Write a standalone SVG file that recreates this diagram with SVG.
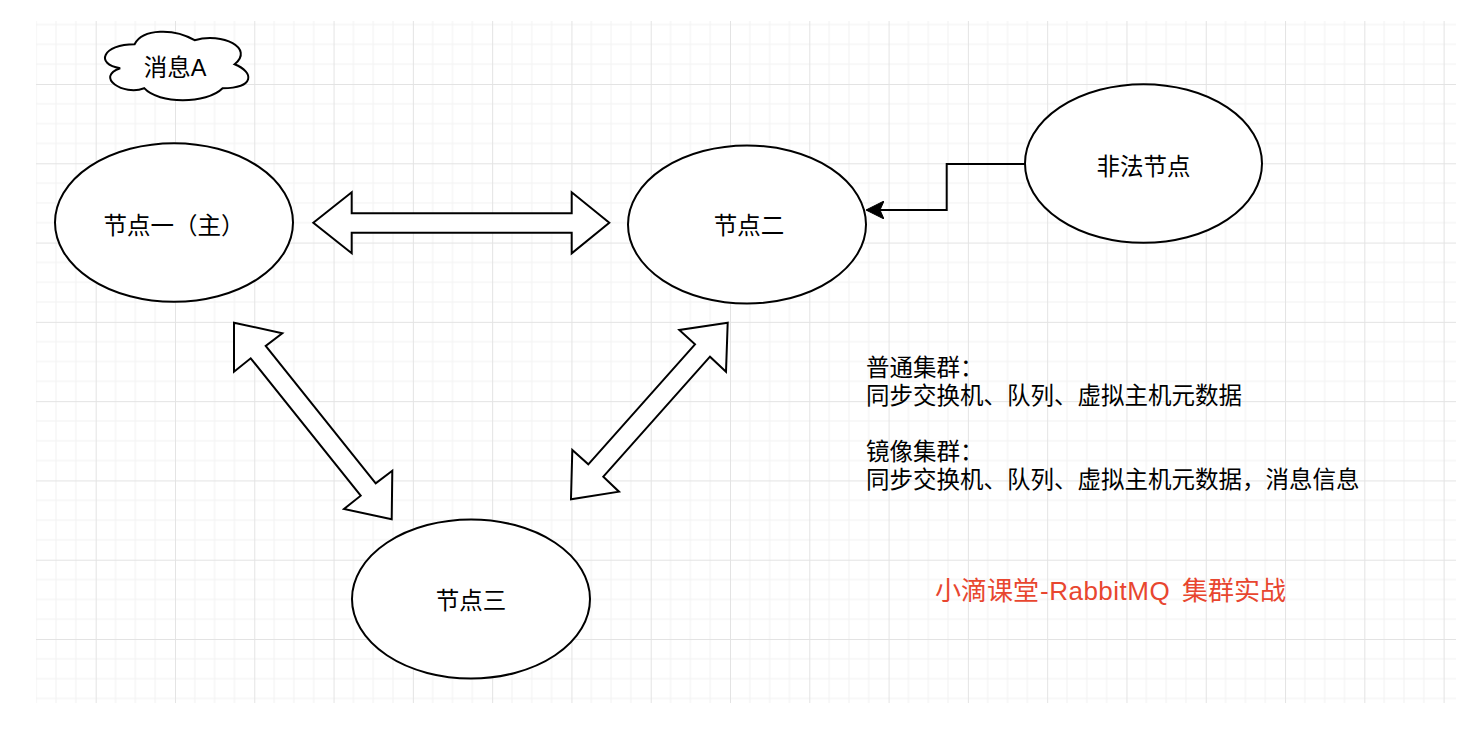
<svg xmlns="http://www.w3.org/2000/svg" width="1483" height="749" viewBox="0 0 1483 749">
  <defs>
    <style>
      .shape { fill: #ffffff; stroke: #000000; stroke-width: 2; }
      .dbl { fill: #ffffff; stroke: #000000; stroke-width: 2; stroke-linejoin: miter; }
      .lbl { font-family: "Liberation Sans", "Noto Sans CJK SC", sans-serif; font-size: 23.5px; fill: #000000; }
      .mid { text-anchor: middle; }
      .title { font-family: "Liberation Sans", "Noto Sans CJK SC", sans-serif; font-size: 26px; fill: #E8462F; }
      .edge { fill: none; stroke: #000000; stroke-width: 2; }
      .minor { stroke: #f1f1f1; stroke-width: 1; }
      .major { stroke: #e3e3e3; stroke-width: 1; }
    </style>
    <pattern id="grid" patternUnits="userSpaceOnUse" x="16.4" y="4.7" width="79.29" height="79.29">
      <line class="minor" x1="19.82" y1="0" x2="19.82" y2="79.29"/>
      <line class="minor" x1="39.64" y1="0" x2="39.64" y2="79.29"/>
      <line class="minor" x1="59.47" y1="0" x2="59.47" y2="79.29"/>
      <line class="minor" x1="0" y1="19.82" x2="79.29" y2="19.82"/>
      <line class="minor" x1="0" y1="39.64" x2="79.29" y2="39.64"/>
      <line class="minor" x1="0" y1="59.47" x2="79.29" y2="59.47"/>
      <line class="major" x1="0.5" y1="0" x2="0.5" y2="79.29"/>
      <line class="major" x1="0" y1="0.5" x2="79.29" y2="0.5"/>
    </pattern>
    <marker id="classic" viewBox="0 0 18 18" refX="17" refY="9" markerWidth="18" markerHeight="18" markerUnits="userSpaceOnUse" orient="auto">
      <path d="M0,0 L18,9 L0,18 L4,9 Z" fill="#000000" stroke="#000000" stroke-width="1"/>
    </marker>
  </defs>

  <rect x="0" y="0" width="1483" height="749" fill="#ffffff"/>
  <rect x="36" y="21" width="1420" height="682" fill="url(#grid)"/>

  <g id="cloud-msgA">
    <path class="shape" d="M134.6,44.2 C102.6,44.2 94.6,64.2 120.2,68.2 C94.6,77 123.4,96.2 144.2,88.2 C158.6,104.2 206.6,104.2 222.6,88.2 C254.6,88.2 254.6,72.2 234.6,64.2 C254.6,48.2 222.6,32.2 194.6,40.2 C174.6,28.2 142.6,28.2 134.6,44.2 Z"/>
    <text class="lbl mid" x="175" y="76">消息A</text>
  </g>

  <g id="node1">
    <ellipse class="shape" cx="174" cy="222.5" rx="119" ry="79.3"/>
    <text class="lbl mid" x="174" y="233.6">节点一（主）</text>
  </g>

  <g id="node2">
    <ellipse class="shape" cx="747" cy="224.5" rx="119" ry="79"/>
    <text class="lbl mid" x="749" y="234.2">节点二</text>
  </g>

  <g id="node-illegal">
    <ellipse class="shape" cx="1143.5" cy="163.5" rx="118.5" ry="79.3"/>
    <text class="lbl mid" x="1143.5" y="175">非法节点</text>
  </g>

  <g id="node3">
    <ellipse class="shape" cx="471" cy="599" rx="119" ry="79.5"/>
    <text class="lbl mid" x="471" y="609.4">节点三</text>
  </g>

  <g id="connectors">
    <polygon class="dbl" points="313.3,222.8 351.7,192.3 351.7,213.3 571.7,213.3 571.7,192.3 609.3,222.8 571.7,253.3 571.7,232.7 351.7,232.7 351.7,253.3"/>
    <polygon class="dbl" points="234,322.7 282.3,333.3 265.7,346 375.7,483.3 392.3,470.7 391.7,519.3 344,509 360.7,495.7 250.7,358.3 234,371.7"/>
    <polygon class="dbl" points="727.7,322.7 679.3,330 695,344.3 588.3,464.3 572.3,450 571,499.3 619,491.7 603.3,476.7 710,356.7 726,371.7"/>
    <path class="edge" d="M1025,164 H946.7 V210 H867" marker-end="url(#classic)"/>
  </g>

  <g id="notes">
    <text class="lbl" x="866" y="376.4">普通集群：</text>
    <text class="lbl" x="866" y="404.4">同步交换机、队列、虚拟主机元数据</text>
    <text class="lbl" x="866" y="460.4">镜像集群：</text>
    <text class="lbl" x="866" y="488.4">同步交换机、队列、虚拟主机元数据，消息信息</text>
  </g>

  <g id="title">
    <text class="title" y="599.9"><tspan x="935">小滴课堂</tspan><tspan x="1040" letter-spacing="0.5">-RabbitMQ </tspan><tspan x="1182">集群实战</tspan></text>
  </g>
</svg>
